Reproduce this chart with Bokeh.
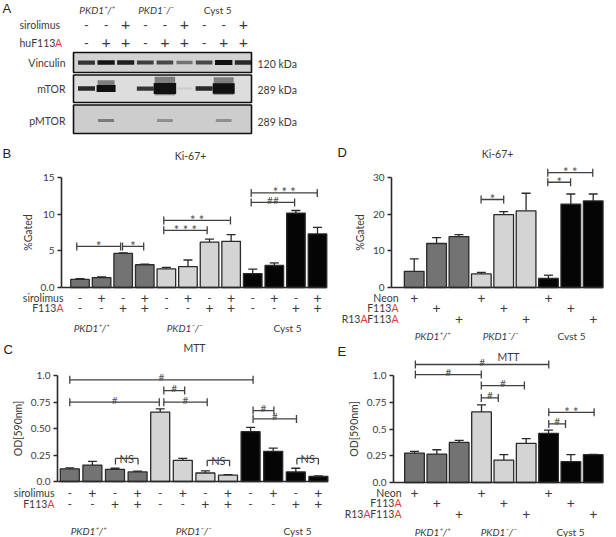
from bokeh.plotting import figure
from bokeh.layouts import column, row
from bokeh.models import Label, Whisker, TeeHead, ColumnDataSource, FixedTicker, Range1d
from bokeh.core.properties import value
from bokeh.embed import file_html
from bokeh.resources import INLINE

FONT = "Lato"
LETTER_FONT = "Liberation Sans"
TXT = "#3a3a3a"
RED = "#e5383b"
LINE = "#2a2a2a"
GROUP_COLORS = ["#737373", "#d4d4d4", "#050505"]

# ---------------- data ----------------
# Panel A: western blot (relative band strength for each of the 9 lanes)
blot_groups = ["PKD1⁺/⁺", "PKD1⁻/⁻", "Cyst 5"]
blot_sirolimus = ["-", "-", "+", "-", "-", "+", "-", "-", "+"]
blot_hu_f113a = ["-", "+", "+", "-", "+", "+", "-", "+", "+"]
blot_proteins = ["Vinculin", "mTOR", "pMTOR"]
blot_kda = ["120 kDa", "289 kDa", "289 kDa"]
vinculin_band = [0.75, 0.9, 0.85, 0.7, 0.65, 0.45, 0.65, 0.95, 0.8]
mtor_band = [0.8, 1.6, 0.0, 0.75, 3.0, 0.08, 0.8, 2.8, 0.0]
pmtor_band = [0.0, 0.4, 0.0, 0.0, 0.3, 0.0, 0.0, 0.3, 0.0]

# Panels B and C (12 bars: 3 cell lines x sirolimus/F113A)
bc_groups = ["PKD1⁺/⁺", "PKD1⁻/⁻", "Cyst 5"]
bc_bar_group = [0, 0, 0, 0, 1, 1, 1, 1, 2, 2, 2, 2]
bc_sirolimus = ["-", "+", "-", "+", "-", "+", "-", "+", "-", "+", "-", "+"]
bc_f113a = ["-", "-", "+", "+", "-", "-", "+", "+", "-", "-", "+", "+"]

ki67_b = [1.1, 1.35, 4.65, 3.1, 2.55, 2.85, 6.2, 6.3, 1.9, 3.0, 10.15, 7.3]
ki67_b_err = [0.1, 0.1, 0.08, 0.08, 0.2, 0.9, 0.4, 0.9, 0.6, 0.35, 0.35, 0.9]
ki67_b_sig = [(0.85, 2.88, 5.6, "*"), (2.97, 3.95, 5.6, "*"),
              (4.88, 6.89, 7.8, "* * *"), (4.88, 7.97, 9.15, "* *"),
              (8.93, 10.94, 11.6, "##"), (8.93, 11.99, 12.9, "* * *")]

mtt_c = [0.12, 0.155, 0.115, 0.09, 0.655, 0.2, 0.08, 0.06, 0.47, 0.285, 0.09, 0.047]
mtt_c_err = [0.008, 0.035, 0.01, 0.008, 0.03, 0.018, 0.02, 0.005, 0.04, 0.03, 0.035, 0.005]
mtt_c_sig = [(1.0, 9.11, 0.959, "#"), (1.0, 4.96, 0.748, "#"), (5.16, 6.08, 0.858, "#"),
             (5.16, 7.08, 0.748, "#"), (9.11, 10.03, 0.669, "#"), (9.11, 11.03, 0.59, "#"),
             (3.02, 4.02, 0.218, "NS"), (7.08, 8.07, 0.2, "NS"), (11.05, 12.0, 0.218, "NS")]

# Panels D and E (9 bars: 3 cell lines x Neon/F113A/R13AF113A)
de_bar_group = [0, 0, 0, 1, 1, 1, 2, 2, 2]
de_neon = ["+", "", "", "+", "", "", "+", "", ""]
de_f113a = ["", "+", "", "", "+", "", "", "+", ""]
de_r13a = ["", "", "+", "", "", "+", "", "", "+"]

ki67_d = [4.4, 12.0, 13.9, 3.7, 19.9, 20.9, 2.45, 22.7, 23.6]
ki67_d_err = [3.4, 1.6, 0.5, 0.4, 0.8, 4.8, 0.9, 2.8, 1.9]
ki67_d_sig = [(3.99, 5.0, 24.0, "*"), (6.97, 7.99, 28.7, "*"), (6.97, 8.98, 31.3, "* *")]

mtt_e = [0.275, 0.266, 0.375, 0.66, 0.21, 0.365, 0.46, 0.195, 0.26]
mtt_e_err = [0.015, 0.04, 0.018, 0.065, 0.05, 0.045, 0.03, 0.065, 0.003]
mtt_e_sig = [(1.04, 7.01, 1.103, "#"), (1.04, 3.99, 1.009, "#"), (3.99, 5.92, 0.906, "#"),
             (3.99, 4.75, 0.79, "#"), (7.01, 9.04, 0.656, "* *"), (7.01, 7.76, 0.547, "#")]

# approximate advance widths (em) of glyphs used in multi-coloured labels
EM = {"A": 0.68, "F": 0.53, "R": 0.62, "1": 0.58, "3": 0.58, "h": 0.56, "u": 0.56}


def tw(s, size):
    return sum(EM.get(c, 0.56) for c in s) * size


def add_text(p, x, y, text, size=10.5, align="center", baseline="middle", color=TXT,
             font=FONT, style="normal", x_offset=0):
    p.add_layout(Label(x=x, y=y, text=text, text_font_size=f"{size}px", text_align=align,
                       text_baseline=baseline, text_color=color, text_font=font,
                       text_font_style=style, x_offset=x_offset))


def colored_right(p, x, y, parts, size=10.5):
    off = 0
    for text, color in reversed(parts):
        add_text(p, x, y, text, size=size, align="right", color=color, x_offset=off)
        off -= tw(text, size)


def colored_left(p, x, y, parts, size=10.5):
    off = 0
    for text, color in parts:
        add_text(p, x, y, text, size=size, align="left", color=color, x_offset=off)
        off += tw(text, size)


def sign_row(p, xs, y, signs, plus=14, minus=12):
    pts = [(x, s) for x, s in zip(xs, signs) if s]
    src = ColumnDataSource(dict(x=[a for a, _ in pts], y=[y] * len(pts), t=[s for _, s in pts],
                                fs=[f"{plus}px" if s == "+" else f"{minus}px" for _, s in pts]))
    p.text(x="x", y="y", text="t", text_font_size="fs", source=src, text_font=value(FONT),
           text_align="center", text_baseline="middle", text_color=TXT)


def letter(p, x, y, t):
    add_text(p, x, y, t, size=13, align="left", font=LETTER_FONT, color="#222222")


# ---------------- panel A ----------------
pa = figure(width=616, height=140, x_range=Range1d(0, 616), y_range=Range1d(140, 0),
            x_axis_location=None, y_axis_location=None, toolbar_location=None,
            output_backend="svg", title=None, min_border=0)
pa.grid.visible = False
pa.outline_line_color = None

lane_x = [86 + 19.6 * i for i in range(9)]
box_top = [52, 74.5, 104.5]
box_bot = [72, 102, 133]
row_mid = [62, 88, 120]
pa.quad(left=[73] * 3, right=[251] * 3, top=box_top, bottom=box_bot,
        fill_color=["#d2d2d2", "#dddddd", "#cdcdcd"], line_color="#111111", line_width=1.6)

for sig, ym in zip([vinculin_band, mtor_band, pmtor_band], row_mid):
    xs = [x for x, s in zip(lane_x, sig) if s > 0]
    ss = [s for s in sig if s > 0]
    halo = [(x, s) for x, s in zip(xs, ss) if s > 1]
    if halo:
        pa.rect(x=[h[0] for h in halo], y=[ym - 2.5] * len(halo),
                width=[13 + 2.5 * h[1] for h in halo],
                height=[(2.5 + 3 * h[1]) * 1.6 for h in halo],
                fill_color="#222222", fill_alpha=0.5, line_color=None)
    pa.rect(x=xs, y=[ym] * len(xs), width=[15 + 2.5 * s for s in ss],
            height=[2.0 + 3 * s for s in ss], fill_color="#111111",
            fill_alpha=[min(1.0, 1.1 * s) for s in ss], line_color=None)

letter(pa, 2, 8, "A")
for g, name in enumerate(blot_groups):
    add_text(pa, lane_x[3 * g + 1] - 9 + (3 if g == 2 else 0), 9, name, size=10,
             style="italic" if name.startswith("PKD1") else "normal")
add_text(pa, 19, 24, "sirolimus", align="left")
colored_left(pa, 19, 42, [("huF113", TXT), ("A", RED)])
sign_row(pa, lane_x, 24, blot_sirolimus, plus=16, minus=13)
sign_row(pa, lane_x, 42, blot_hu_f113a, plus=16, minus=13)
for name, kda, ym in zip(blot_proteins, blot_kda, row_mid):
    add_text(pa, 65, ym, name, align="right")
    add_text(pa, 257, ym + 1, kda, align="left")


# ---------------- bar panels ----------------
def base_panel(w, h, ref_left, ref_top, axis_ref, bar1_ref, step_ref, zero_ref, ppu):
    X = lambda px: 1 + (px - bar1_ref) / step_ref
    Y = lambda py: (zero_ref - py) / ppu
    p = figure(width=w, height=h, x_range=Range1d(X(ref_left), X(ref_left + w)),
               y_range=Range1d(Y(ref_top + h), Y(ref_top)), x_axis_location=None,
               toolbar_location=None, output_backend="svg", title=None, min_border=0)
    p.grid.visible = False
    p.outline_line_color = None
    p.yaxis[0].fixed_location = X(axis_ref)
    return p, X, Y


def draw_bars(p, X, axis_ref, vals, errs, groups, bar_w):
    n = len(vals)
    src = ColumnDataSource(dict(x=list(range(1, n + 1)), top=vals,
                                upper=[v + e for v, e in zip(vals, errs)],
                                color=[GROUP_COLORS[g] for g in groups]))
    p.add_layout(Whisker(base="x", lower="top", upper="upper", source=src, dimension="height",
                         line_color=LINE, line_width=1.3,
                         upper_head=TeeHead(size=9, line_color=LINE, line_width=1.3),
                         lower_head=None))
    p.vbar(x="x", top="top", bottom=0, width=bar_w, fill_color="color", line_color=LINE,
           line_width=1.3, source=src)
    p.segment(x0=[X(axis_ref)], y0=[0], x1=[n + bar_w / 2], y1=[0],
              line_color=LINE, line_width=1.6)


def style_axis(p, ticks, labels, top, ylabel):
    ax = p.yaxis[0]
    ax.bounds = (0, top)
    ax.ticker = FixedTicker(ticks=ticks, minor_ticks=[])
    ax.major_label_overrides = {t: l for t, l in zip(ticks, labels)}
    ax.axis_line_color = LINE
    ax.axis_line_width = 1.6
    ax.major_tick_line_color = LINE
    ax.major_tick_line_width = 1.3
    ax.major_tick_out = 4
    ax.major_tick_in = 0
    ax.minor_tick_out = 0
    ax.minor_tick_in = 0
    ax.major_label_text_font = FONT
    ax.major_label_text_font_size = "10px"
    ax.major_label_text_color = TXT
    ax.major_label_standoff = 3
    ax.axis_label = ylabel
    ax.axis_label_text_font = FONT
    ax.axis_label_text_font_size = "10.5px"
    ax.axis_label_text_font_style = "normal"
    ax.axis_label_text_color = TXT
    ax.axis_label_standoff = 4


def draw_brackets(p, specs, ppu):
    t = 4 / ppu
    x0s, y0s, x1s, y1s = [], [], [], []
    lx, ly, lt, lfs, ns_x, ns_y = [], [], [], [], [], []
    for a, b, y, lab in specs:
        x0s.append(a); y0s.append(y); x1s.append(b); y1s.append(y)
        if lab == "NS":
            for e in (a, b):
                x0s.append(e); y0s.append(y); x1s.append(e); y1s.append(y - 1.5 * t)
            ns_x.append((a + b) / 2); ns_y.append(y)
        else:
            for e in (a, b):
                x0s.append(e); y0s.append(y - t); x1s.append(e); y1s.append(y + t)
            star = "*" in lab
            lx.append((a + b) / 2)
            ly.append(y + (0.5 if star else 2.5) / ppu)
            lt.append(lab)
            lfs.append("13px" if star else "10px")
    p.segment(x0=x0s, y0=y0s, x1=x1s, y1=y1s, line_color="#404040", line_width=1.3)
    if lx:
        src = ColumnDataSource(dict(x=lx, y=ly, t=lt, fs=lfs))
        p.text(x="x", y="y", text="t", text_font_size="fs", source=src, text_font=value(FONT),
               text_align="center", text_baseline="alphabetic", text_color="#505050")
    if ns_x:
        p.text(x=ns_x, y=ns_y, text=["NS"] * len(ns_x), text_font=value(FONT),
               text_font_size="11px", text_align="center", text_baseline="middle",
               text_color="#404040")


def group_labels(p, X, Y, xs_ref, y_ref, names):
    for xr, name in zip(xs_ref, names):
        add_text(p, X(xr), Y(y_ref), name, size=10,
                 style="italic" if name.startswith("PKD1") else "normal")


# ---- B ----
pb, XB, YB = base_panel(330, 200, 0, 140, 61, 79.5, 21.59, 287, 7.333)
draw_bars(pb, XB, 61, ki67_b, ki67_b_err, bc_bar_group, 0.86)
style_axis(pb, [0, 5, 10, 15], ["0.0", "5", "10", "15"], 15, "%Gated")
draw_brackets(pb, ki67_b_sig, 7.333)
bx = list(range(1, 13))
sign_row(pb, bx, YB(297), bc_sirolimus)
sign_row(pb, bx, YB(307), bc_f113a)
add_text(pb, XB(63), YB(297), "sirolimus", align="right")
colored_right(pb, XB(63), YB(307), [("F113", TXT), ("A", RED)])
group_labels(pb, XB, YB, [91, 184, 287], 327, bc_groups)
add_text(pb, XB(190), YB(155), "Ki-67+", size=10.5)
letter(pb, XB(2), YB(153), "B")

# ---- C ----
pc, XC, YC = base_panel(330, 197, 0, 340, 57, 69.3, 22.6, 481, 106)
draw_bars(pc, XC, 57, mtt_c, mtt_c_err, bc_bar_group, 0.84)
style_axis(pc, [0, 0.25, 0.5, 0.75, 1.0], ["0.0", "0.25", "0.50", "0.75", "1.0"], 1.0, "OD[590nm]")
draw_brackets(pc, mtt_c_sig, 106)
sign_row(pc, bx, YC(492), bc_sirolimus)
sign_row(pc, bx, YC(503), bc_f113a)
add_text(pc, XC(54), YC(492), "sirolimus", align="right")
colored_right(pc, XC(54), YC(503), [("F113", TXT), ("A", RED)])
group_labels(pc, XC, YC, [88, 193, 297], 530, bc_groups)
add_text(pc, XC(194), YC(347), "MTT", size=10.5)
letter(pc, XC(3), YC(349), "C")

# ---- D ----
pd_, XD, YD = base_panel(286, 200, 330, 140, 391, 413.7, 22.375, 287, 3.667)
draw_bars(pd_, XD, 391, ki67_d, ki67_d_err, de_bar_group, 0.88)
style_axis(pd_, [0, 10, 20, 30], ["0", "10", "20", "30"], 30, "%Gated")
draw_brackets(pd_, ki67_d_sig, 3.667)
dx = list(range(1, 10))
sign_row(pd_, dx, YD(297), de_neon)
sign_row(pd_, dx, YD(307), de_f113a)
sign_row(pd_, dx, YD(318), de_r13a)
add_text(pd_, XD(398), YD(297), "Neon", align="right")
colored_right(pd_, XD(398), YD(307), [("F113", TXT), ("A", RED)])
colored_right(pd_, XD(398), YD(318), [("R13", TXT), ("A", RED), ("F113", TXT), ("A", RED)])
group_labels(pd_, XD, YD, [432, 500, 571], 335, bc_groups)
add_text(pd_, XD(497), YD(153), "Ki-67+", size=10.5)
letter(pd_, XD(337), YD(152), "D")

# ---- E ----
pe, XE, YE = base_panel(286, 197, 330, 340, 393, 414, 22.34, 482, 107)
draw_bars(pe, XE, 393, mtt_e, mtt_e_err, de_bar_group, 0.88)
style_axis(pe, [0, 0.25, 0.5, 0.75, 1.0], ["0.0", "0.25", "0.5", "0.75", "1.0"], 1.0, "OD[590nm]")
draw_brackets(pe, mtt_e_sig, 107)
sign_row(pe, dx, YE(492), de_neon)
sign_row(pe, dx, YE(502), de_f113a)
sign_row(pe, dx, YE(513), de_r13a)
add_text(pe, XE(401), YE(492), "Neon", align="right")
colored_right(pe, XE(401), YE(502), [("F113", TXT), ("A", RED)])
colored_right(pe, XE(401), YE(513), [("R13", TXT), ("A", RED), ("F113", TXT), ("A", RED)])
group_labels(pe, XE, YE, [432, 498, 570], 531, bc_groups)
add_text(pe, XE(508), YE(356), "MTT", size=10.5)
letter(pe, XE(337), YE(351), "E")

layout = column(pa, row(pb, pd_), row(pc, pe))
open("out.html", "w").write(file_html(layout, INLINE))
